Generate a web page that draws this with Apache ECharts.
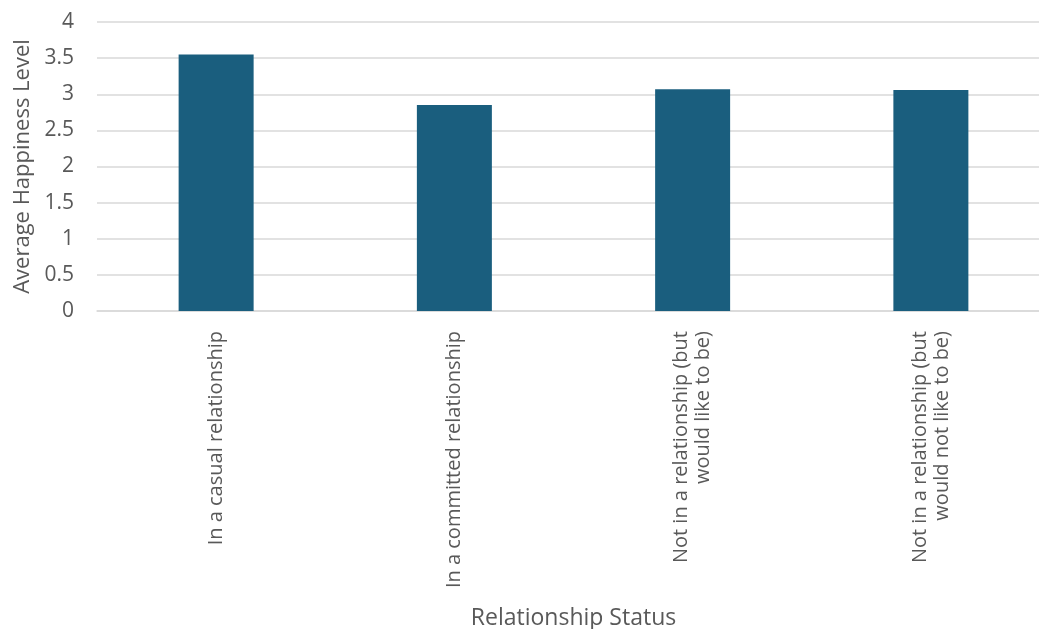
<!DOCTYPE html>
<html>
<head>
<meta charset="utf-8">
<script src="https://cdn.jsdelivr.net/npm/echarts@6/dist/echarts.min.js"></script>
<style>
  html, body { margin: 0; padding: 0; background: #fff; }
  #chart { width: 1039px; height: 629px; }
</style>
</head>
<body>
<div id="chart"></div>
<script>
// relationship status categories (Excel wraps the long ones on two lines)
const categories = [
  'In a casual relationship',
  'In a committed relationship',
  'Not in a relationship (but\nwould like to be)',
  'Not in a relationship (but\nwould not like to be)'
];
const happiness = [3.55, 2.85, 3.07, 3.06];

const textGrey = '#595959';
const chart = echarts.init(document.getElementById('chart'));

chart.setOption({
  animation: false,
  textStyle: { fontFamily: 'Open Sans' },
  // plot runs a little past the right edge, like the cropped Excel picture
  grid: { left: 97, top: 22, right: -11, height: 289, containLabel: false, outerBoundsMode: 'none' },
  xAxis: {
    type: 'category',
    data: categories,
    name: 'Relationship Status',
    nameLocation: 'middle',
    nameGap: 296,
    nameTextStyle: { color: textGrey, fontSize: 23, fontFamily: 'Open Sans' },
    axisLine: { lineStyle: { color: '#d9d9d9', width: 1.5 } },
    axisTick: { show: false },
    axisLabel: {
      rotate: 90,
      interval: 0,
      margin: 20,
      color: textGrey,
      fontSize: 20,
      lineHeight: 22,
      fontFamily: 'Open Sans'
    }
  },
  yAxis: {
    type: 'value',
    min: 0,
    max: 4,
    interval: 0.5,
    name: 'Average Happiness Level',
    nameLocation: 'middle',
    nameGap: 63,
    nameTextStyle: { color: textGrey, fontSize: 22, fontFamily: 'Open Sans' },
    axisLine: { show: false },
    axisTick: { show: false },
    axisLabel: { color: textGrey, fontSize: 21, margin: 23 },
    splitLine: { lineStyle: { color: '#d9d9d9', width: 1.5 } }
  },
  series: [{
    type: 'bar',
    data: happiness,
    barWidth: 75,
    itemStyle: { color: '#1a5e7e' }
  }]
});
</script>
</body>
</html>
